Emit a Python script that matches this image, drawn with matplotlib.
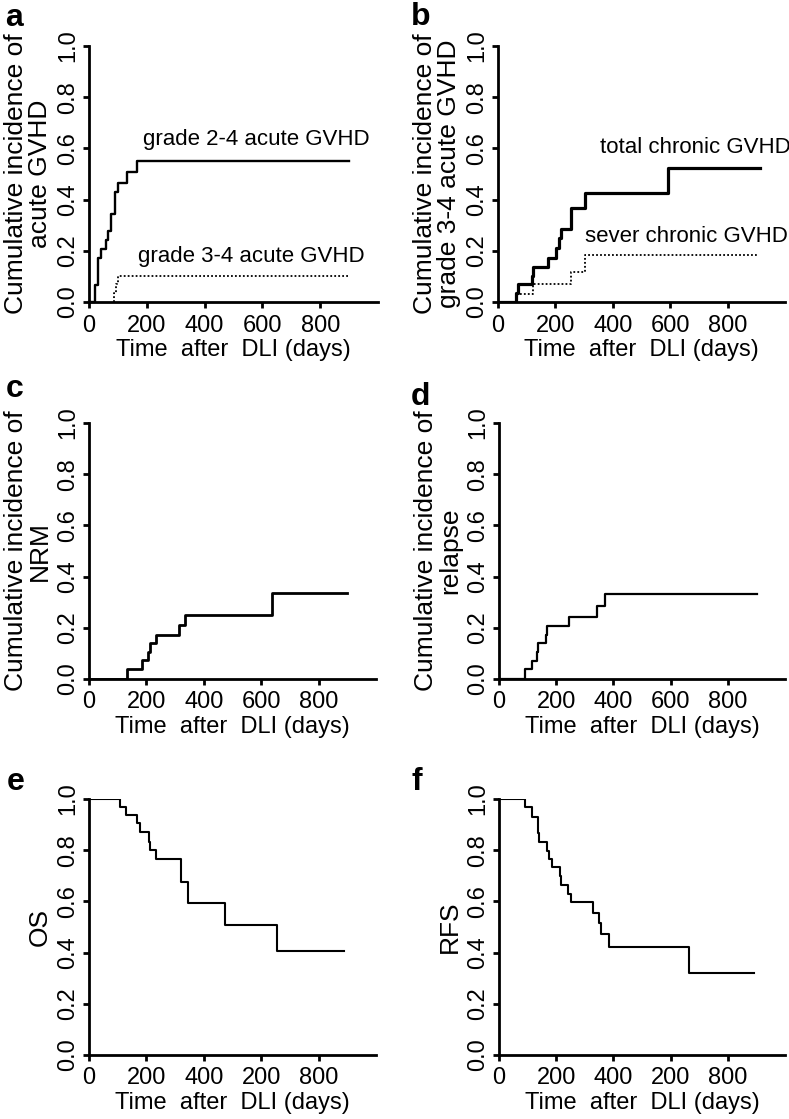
import matplotlib
matplotlib.use("Agg")
import matplotlib.pyplot as plt
from matplotlib import font_manager

# ---------------- data ----------------
# panel a: acute GVHD
a_g24_t = [0, 22, 32, 41, 58, 67, 75, 89, 101, 133, 165, 899]
a_g24_v = [0, 0.068, 0.172, 0.207, 0.241, 0.276, 0.345, 0.431, 0.466, 0.507, 0.552, 0.552]
a_g34_t = [87, 95, 101, 895]
a_g34_v = [0.034, 0.069, 0.103, 0.103]

# panel b: chronic GVHD
b_tot_t = [0, 62, 70, 119, 123, 175, 202, 213, 219, 254, 304, 591, 912]
b_tot_v = [0, 0.035, 0.069, 0.103, 0.137, 0.172, 0.209, 0.25, 0.285, 0.366, 0.425, 0.524, 0.524]
b_sev_t = [62, 121, 254, 304, 906]
b_sev_v = [0.033, 0.069, 0.117, 0.183, 0.183]

# panel c: NRM
c_t = [0, 133, 184, 205, 214, 234, 315, 336, 638, 899]
c_v = [0, 0.039, 0.074, 0.107, 0.139, 0.172, 0.21, 0.25, 0.334, 0.334]

# panel d: relapse
d_t = [0, 91, 114, 133, 137, 166, 169, 245, 343, 371, 901]
d_v = [0, 0.038, 0.072, 0.107, 0.14, 0.172, 0.206, 0.243, 0.285, 0.332, 0.332]

# panel e: OS
e_t = [0, 107, 130, 168, 179, 208, 213, 234, 319, 345, 475, 655, 889]
e_v = [1.0, 0.97, 0.937, 0.905, 0.87, 0.833, 0.80, 0.764, 0.677, 0.592, 0.508, 0.407, 0.407]

# panel f: RFS
f_t = [0, 91, 117, 135, 140, 169, 174, 187, 213, 216, 243, 250, 327, 350, 356, 386, 666, 892]
f_v = [1.0, 0.967, 0.93, 0.866, 0.833, 0.798, 0.766, 0.733, 0.70, 0.664, 0.63, 0.596, 0.556,
       0.514, 0.473, 0.423, 0.319, 0.319]

x_ticks = [0, 200, 400, 600, 800]
x_ticklabels_top = ["0", "200", "400", "600", "800"]
x_ticklabels_bottom = ["0", "200", "400", "200", "800"]
y_ticks = [0.0, 0.2, 0.4, 0.6, 0.8, 1.0]

ylabels = {
    "a": "Cumulative incidence of\nacute GVHD",
    "b": "Cumulative incidence of\ngrade 3-4 acute GVHD",
    "c": "Cumulative incidence of\nNRM",
    "d": "Cumulative incidence of\nrelapse",
    "e": "OS",
    "f": "RFS",
}
xlabel = "Time  after  DLI (days)"

# ---------------- fonts ----------------
avail = {f.name for f in font_manager.fontManager.ttflist}
base_font = "Liberation Sans" if "Liberation Sans" in avail else "DejaVu Sans"
narrow_font = "Liberation Sans Narrow" if "Liberation Sans Narrow" in avail else base_font
plt.rcParams["font.family"] = [base_font, "DejaVu Sans"]

W, H = 789, 1119
fig = plt.figure(figsize=(W / 100, H / 100), dpi=100)


def add_ax(left, top, right, bottom):
    return fig.add_axes([left / W, 1 - bottom / H, (right - left) / W, (bottom - top) / H])


boxes = {
    "a": (89, 46, 378, 302),
    "b": (498, 46, 785, 302),
    "c": (89, 423, 376, 679),
    "d": (499, 423, 785, 679),
    "e": (89, 799, 376, 1055),
    "f": (499, 799, 785, 1055),
}

axes = {}
for key, box in boxes.items():
    ax = add_ax(*box)
    axes[key] = ax
    ax.set_xlim(0, 1000)
    ax.set_ylim(0, 1.0)
    for s in ("top", "right"):
        ax.spines[s].set_visible(False)
    for s in ("left", "bottom"):
        ax.spines[s].set_linewidth(2.0)
    ax.tick_params(width=2.0, length=4, direction="out")
    ax.tick_params(axis="x", pad=5)
    ax.tick_params(axis="y", pad=3)
    ax.set_xticks(x_ticks)
    ax.set_xticklabels(x_ticklabels_bottom if key in ("e", "f") else x_ticklabels_top,
                       fontfamily=narrow_font, fontsize=17)
    ax.set_yticks(y_ticks)
    ax.set_yticklabels([f"{v:.1f}" for v in y_ticks], rotation=90, va="center",
                       fontfamily=narrow_font, fontsize=17)
    ax.set_ylabel(ylabels[key], fontsize=19, linespacing=1.0)
    ax.yaxis.set_label_coords(-37 / (box[2] - box[0]), 0.5)
    ax.set_xlabel(xlabel, fontsize=17)
    ax.xaxis.set_label_coords(0.5, -48 / (box[3] - box[1]))
    ax.xaxis.label.set_va("center")

# curves
axes["a"].step(a_g24_t, a_g24_v, where="post", color="black", lw=1.7, clip_on=False)
axes["a"].step([87] + a_g34_t[:-1] + [a_g34_t[-1]], [0] + a_g34_v, where="post",
               color="black", lw=1.3, ls=(0, (1, 1.2)))
axes["a"].text(187, 0.633, "grade 2-4 acute GVHD", fontsize=16, va="center")
axes["a"].text(170, 0.176, "grade 3-4 acute GVHD", fontsize=16, va="center")

axes["b"].step(b_tot_t, b_tot_v, where="post", color="black", lw=2.3)
axes["b"].step([62] + b_sev_t, [0] + b_sev_v, where="post", color="black", lw=1.3,
               ls=(0, (1, 1.2)))
axes["b"].text(355, 0.605, "total chronic GVHD", fontsize=16, va="center")
axes["b"].text(302, 0.255, "sever chronic GVHD", fontsize=16, va="center")

axes["c"].step(c_t, c_v, where="post", color="black", lw=2.0)
axes["d"].step(d_t, d_v, where="post", color="black", lw=1.6)
axes["e"].step(e_t, e_v, where="post", color="black", lw=1.5)
axes["f"].step(f_t, f_v, where="post", color="black", lw=1.5)

# panel letters
letters = {"a": (5, 26), "b": (411, 25), "c": (6, 397), "d": (411, 405), "e": (7, 790), "f": (412, 790)}
for k, (x, y) in letters.items():
    fig.text(x / W, 1 - y / H, k, fontsize=23, fontweight="bold", ha="left", va="baseline")

fig.savefig("out.png", dpi=100)
